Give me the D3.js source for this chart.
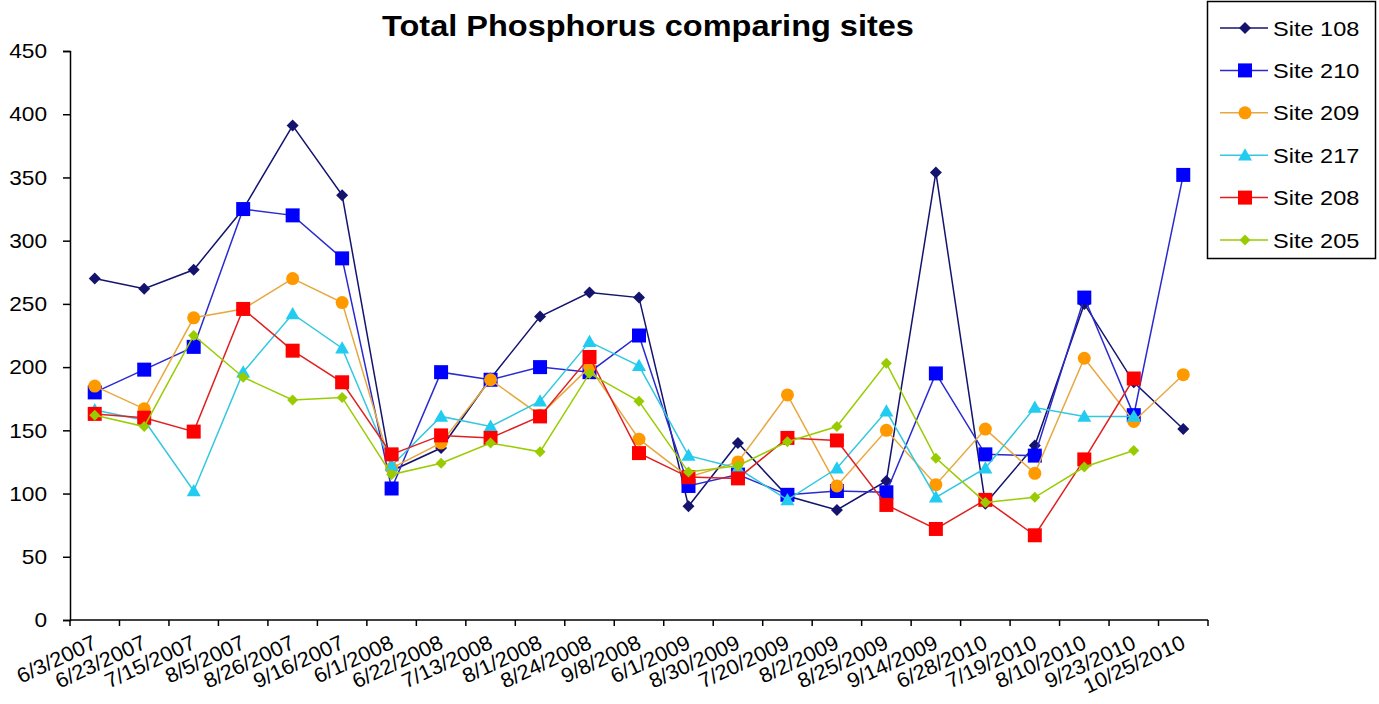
<!DOCTYPE html>
<html>
<head>
<meta charset="utf-8">
<script src="https://d3js.org/d3.v7.min.js"></script>
<style>
body { margin: 0; background: #fff; }
text { font-family: Arial, "Liberation Sans", sans-serif; }
</style>
</head>
<body>
<div id="svg-container"></div>
<script>
var w = 1379;
var h = 704;

// sample dates (x categories)
var dates = ["6/3/2007", "6/23/2007", "7/15/2007", "8/5/2007", "8/26/2007", "9/16/2007",
    "6/1/2008", "6/22/2008", "7/13/2008", "8/1/2008", "8/24/2008", "9/8/2008",
    "6/1/2009", "8/30/2009", "7/20/2009", "8/2/2009", "8/25/2009", "9/14/2009",
    "6/28/2010", "7/19/2010", "8/10/2010", "9/23/2010", "10/25/2010"];

var yTicks = [0, 50, 100, 150, 200, 250, 300, 350, 400, 450];

var site108 = [270, 262, 277, 325, 391, 336, 118, 136, 191, 240, 259, 255, 90, 140, 98, 87, 110, 354, 92, 138, 250, 188, 151];
var site210 = [180, 198, 216, 325, 320, 286, 104, 196, 190, 200, 196, 225, 106, 115, 99, 102, 101, 195, 131, 130, 255, 162, 352];
var site209 = [185, 167, 239, 246, 270, 251, 120, 140, 190, 162, 200, 143, 113, 125, 178, 106, 150, 107, 151, 116, 207, 157, 194];
var site217 = [166, 158, 102, 196, 242, 215, 122, 161, 153, 173, 220, 201, 130, 120, 95, 120, 165, 97, 120, 168, 161, 161, null];
var site208 = [163, 160, 149, 246, 213, 188, 131, 146, 144, 161, 208, 132, 113, 112, 144, 142, 91, 72, 95, 67, 127, 191, null];
var site205 = [162, 153, 225, 192, 174, 176, 115, 124, 140, 133, 195, 173, 117, 122, 141, 153, 203, 128, 93, 97, 121, 134, null];

var siteNames = ["Site 108", "Site 210", "Site 209", "Site 217", "Site 208", "Site 205"];

var series = [
    { name: siteNames[0], values: site108, line: "#14146e", fill: "#14146e", shape: "diamond", size: 12 },
    { name: siteNames[1], values: site210, line: "#2a2ad0", fill: "#0000ff", shape: "square", size: 14 },
    { name: siteNames[2], values: site209, line: "#e8a840", fill: "#ff9900", shape: "circle", size: 13 },
    { name: siteNames[3], values: site217, line: "#33c8e0", fill: "#22ccf0", shape: "triangle", size: 14 },
    { name: siteNames[4], values: site208, line: "#e02020", fill: "#ff0000", shape: "square", size: 14 },
    { name: siteNames[5], values: site205, line: "#99cc00", fill: "#99cc00", shape: "diamond", size: 11 }
];

var plot = { left: 70, right: 1208, top: 51, bottom: 620 };

var svg = d3.select("#svg-container")
    .append("svg")
    .attr("width", w)
    .attr("height", h);

var xScale = d3.scaleBand()
    .domain(dates)
    .range([plot.left, plot.right]);

var yScale = d3.scaleLinear()
    .domain([0, 450])
    .range([plot.bottom, plot.top]);

var cx = function(i) { return xScale(dates[i]) + xScale.bandwidth() / 2; };

// the source picture is a bit wider than it is tall, so stretch text sideways
var stretch = function(sel, k) {
    sel.each(function() {
        var len = this.getComputedTextLength();
        d3.select(this)
            .attr("textLength", len * k)
            .attr("lengthAdjust", "spacingAndGlyphs");
    });
};

// title
svg.append("text")
    .attr("x", 648)
    .attr("y", 36)
    .attr("text-anchor", "middle")
    .style("font-size", "29px")
    .style("font-weight", "bold")
    .text("Total Phosphorus comparing sites")
    .call(stretch, 1.12);

// y axis
var yAxisGen = d3.axisLeft(yScale).tickValues(yTicks).tickSize(7).tickPadding(16);

var yAxis = svg.append("g")
    .attr("class", "y-axis")
    .attr("transform", "translate(" + plot.left + ",0)")
    .call(yAxisGen);

yAxis.select(".domain").attr("stroke", "#000").attr("stroke-width", 1.5);
yAxis.selectAll(".tick line").attr("stroke", "#000").attr("stroke-width", 1.5);
yAxis.selectAll(".tick text")
    .style("font-size", "21px")
    .style("font-family", "Arial, 'Liberation Sans', sans-serif")
    .attr("fill", "#000")
    .call(stretch, 1.08);

// x axis: ticks between categories
var tickPositions = dates.map(function(d) { return xScale(d); }).concat([plot.right]);

var xAxis = svg.append("g").attr("class", "x-axis");

xAxis.append("line")
    .attr("x1", plot.left)
    .attr("x2", plot.right)
    .attr("y1", plot.bottom)
    .attr("y2", plot.bottom)
    .attr("stroke", "#000")
    .attr("stroke-width", 1.5);

xAxis.selectAll(".xtick")
    .data(tickPositions)
    .enter()
    .append("line")
    .attr("class", "xtick")
    .attr("x1", function(d) { return d; })
    .attr("x2", function(d) { return d; })
    .attr("y1", plot.bottom)
    .attr("y2", plot.bottom + 6)
    .attr("stroke", "#000")
    .attr("stroke-width", 1.5);

xAxis.selectAll(".xlabel")
    .data(dates)
    .enter()
    .append("text")
    .attr("class", "xlabel")
    .attr("text-anchor", "end")
    .attr("transform", function(d, i) { return "translate(" + (cx(i) - 3) + "," + (plot.bottom + 14) + ") rotate(-25)"; })
    .attr("dy", "0.72em")
    .style("font-size", "21px")
    .text(function(d) { return d; })
    .call(stretch, 1.04);

// markers
var markerPath = function(s) {
    var r = s.size / 2;
    if (s.shape == "diamond") {
        return "M0," + (-r) + "L" + r + ",0L0," + r + "L" + (-r) + ",0Z";
    } else if (s.shape == "square") {
        return d3.symbol().type(d3.symbolSquare).size(s.size * s.size)();
    } else if (s.shape == "circle") {
        return d3.symbol().type(d3.symbolCircle).size(Math.PI * r * r)();
    }
    return "M0," + (-r) + "L" + r + "," + (r * 0.75) + "L" + (-r) + "," + (r * 0.75) + "Z";
};

var lineGen = d3.line()
    .defined(function(d) { return d != null; })
    .x(function(d, i) { return cx(i); })
    .y(function(d) { return yScale(d); });

var seriesG = svg.append("g").attr("class", "series");

series.forEach(function(s) {
    var g = seriesG.append("g");

    g.append("path")
        .attr("d", lineGen(s.values))
        .attr("fill", "none")
        .attr("stroke", s.line)
        .attr("stroke-width", 1.5);

    var pts = s.values.map(function(v, i) { return { v: v, i: i }; })
        .filter(function(d) { return d.v != null; });

    g.selectAll("path.mark")
        .data(pts)
        .enter()
        .append("path")
        .attr("class", "mark")
        .attr("d", markerPath(s))
        .attr("transform", function(d) { return "translate(" + cx(d.i) + "," + yScale(d.v) + ")"; })
        .attr("fill", s.fill);
});

// legend
var legend = svg.append("g").attr("class", "legend");

legend.append("rect")
    .attr("x", 1207.5)
    .attr("y", 1.5)
    .attr("width", 168)
    .attr("height", 257)
    .attr("fill", "#fff")
    .attr("stroke", "#000")
    .attr("stroke-width", 1.5);

var legendItems = legend.selectAll(".item")
    .data(series)
    .enter()
    .append("g")
    .attr("class", "item")
    .attr("transform", function(d, i) { return "translate(0," + (28 + i * 42.4) + ")"; });

legendItems.append("line")
    .attr("x1", 1220)
    .attr("x2", 1268)
    .attr("y1", 0)
    .attr("y2", 0)
    .attr("stroke", function(d) { return d.line; })
    .attr("stroke-width", 1.5);

legendItems.append("path")
    .attr("d", function(d) { return markerPath(d); })
    .attr("transform", "translate(1245,0)")
    .attr("fill", function(d) { return d.fill; });

legendItems.append("text")
    .attr("x", 1273)
    .attr("y", 0)
    .attr("dy", "0.36em")
    .style("font-size", "21px")
    .text(function(d) { return d.name; })
    .call(stretch, 1.12);
</script>
</body>
</html>
